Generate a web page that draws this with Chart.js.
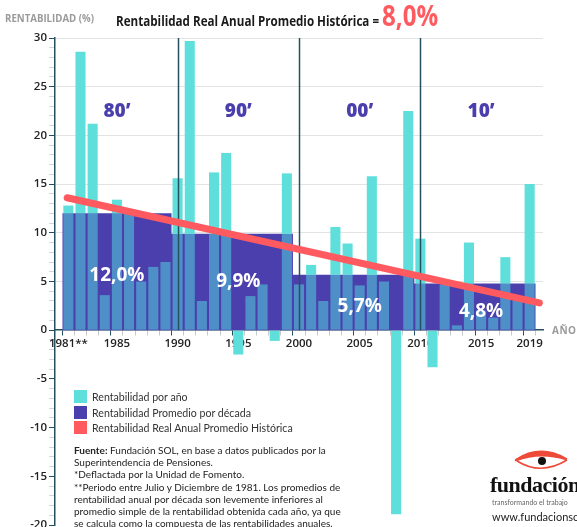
<!DOCTYPE html>
<html lang="es">
<head>
<meta charset="UTF-8">
<title>Rentabilidad Real Anual Promedio Histórica</title>
<style>
  html, body { margin: 0; padding: 0; background: #fff; }
  .wrap { position: relative; width: 577px; height: 527px; overflow: hidden; font-family: "Lato", "Open Sans", Arial, sans-serif; }
  #chart { position: absolute; left: 0; top: 0; }
  .ylabel { position: absolute; left: 5px; top: 11px; font: 700 10.5px "Open Sans", sans-serif; color: #9a9a9a; transform: scaleX(0.92); transform-origin: left; white-space: nowrap; }
  .title { position: absolute; left: 116px; top: -5px; font: 700 14px "Open Sans", sans-serif; color: #1a1a1a; transform: scaleX(0.83); transform-origin: left; white-space: nowrap; }
  .title .big { font-size: 29px; color: #ff5a5f; }
  .axisname { position: absolute; left: 552px; top: 323px; font: 700 10px "Open Sans", sans-serif; color: #9a9a9a; letter-spacing: 0.5px; }
  .legend { position: absolute; left: 74px; top: 390px; font-size: 10.6px; color: #333; }
  .legend div { height: 15.5px; line-height: 14px; white-space: nowrap; }
  .legend span { display: inline-block; width: 13px; height: 13px; vertical-align: -2px; margin-right: 5px; }
  .notes { position: absolute; left: 74px; top: 444px; font-size: 10px; line-height: 12.2px; color: #222; white-space: nowrap; }
  .logo { position: absolute; left: 490px; top: 444px; width: 120px; }
  .logo .name { position: absolute; left: 0; top: 28px; font: 700 22px "Liberation Serif", serif; color: #111; letter-spacing: -0.5px; }
  .logo .tag { position: absolute; left: 2px; top: 54px; font-size: 7px; color: #666; white-space: nowrap; }
  .logo .web { position: absolute; left: 2px; top: 66px; font-size: 11px; color: #222; white-space: nowrap; }
  .logo svg { position: absolute; left: 24px; top: 4px; }
</style>
</head>
<body>
<div class="wrap">
  <canvas id="chart" width="577" height="527"></canvas>
  <div class="ylabel">RENTABILIDAD (%)</div>
  <div class="title">Rentabilidad Real Anual Promedio Histórica = <span class="big">8,0%</span></div>
  <div class="axisname">AÑO</div>
  <div class="legend" id="legend"></div>
  <div class="notes">
    <b>Fuente:</b> Fundación SOL, en base a datos publicados por la<br>
    Superintendencia de Pensiones.<br>
    *Deflactada por la Unidad de Fomento.<br>
    **Periodo entre Julio y Diciembre de 1981. Los promedios de<br>
    rentabilidad anual por década son levemente inferiores al<br>
    promedio simple de la rentabilidad obtenida cada año, ya que<br>
    se calcula como la compuesta de las rentabilidades anuales.
  </div>
  <div class="logo">
    <svg width="56" height="26" viewBox="0 0 56 26">
      <path d="M2 12 Q26 -4 52 11 Q26 3 2 12 Z" fill="#ee4a3a" stroke="#ee4a3a" stroke-width="2.5" stroke-linejoin="round"/>
      <path d="M3 13 Q27 28 53 12" fill="none" stroke="#ee4a3a" stroke-width="1.6"/>
      <circle cx="28" cy="13" r="4" fill="#111"/>
    </svg>
    <div class="name">fundación</div>
    <div class="tag">transformando el trabajo</div>
    <div class="web">www.fundacionsol.cl</div>
  </div>
</div>

<script src="https://cdn.jsdelivr.net/npm/chart.js"></script>
<script>
  const years = [1981, 1982, 1983, 1984, 1985, 1986, 1987, 1988, 1989,
                 1990, 1991, 1992, 1993, 1994, 1995, 1996, 1997, 1998, 1999,
                 2000, 2001, 2002, 2003, 2004, 2005, 2006, 2007, 2008, 2009,
                 2010, 2011, 2012, 2013, 2014, 2015, 2016, 2017, 2018, 2019];
  const annualReturn = [12.8, 28.6, 21.2, 3.6, 13.4, 12.0, 5.0, 6.5, 7.0,
                        15.6, 29.7, 3.0, 16.2, 18.2, -2.5, 3.5, 4.7, -1.1, 16.1,
                        4.7, 6.7, 3.0, 10.6, 8.9, 4.6, 15.8, 5.0, -18.9, 22.5,
                        9.4, -3.8, 4.7, 0.5, 9.0, 2.0, 1.3, 7.5, 3.2, 15.0];

  const decadeNames = ['80’', '90’', '00’', '10’'];
  const decadeFirstYear = [1981, 1990, 2000, 2010];
  const decadeLastYear = [1989, 1999, 2009, 2019];
  const decadeAverage = [12.0, 9.9, 5.7, 4.8];
  const decadeAverageText = ['12,0%', '9,9%', '5,7%', '4,8%'];

  const trendYears = [1980.9, 2019.8];
  const trendValues = [13.6, 2.8];

  const xTickYears = [1981, 1985, 1990, 1995, 2000, 2005, 2010, 2015, 2019];
  const xTickLabels = ['1981**', '1985', '1990', '1995', '2000', '2005', '2010', '2015', '2019'];
  const yTickLabels = [30, 25, 20, 15, 10, 5, 0, -5, -10, -15, -20];

  const CYAN = '#5fdfdb', STEEL = '#4f8fc8', PURPLE = '#4a3fad', RED = '#ff5a5f', AXIS = '#24505f';

  // index of the decade a year belongs to
  function decadeOf(year) {
    for (let i = 0; i < decadeFirstYear.length; i++) {
      if (year >= decadeFirstYear[i] && year <= decadeLastYear[i]) return i;
    }
    return -1;
  }

  // part of each year bar that overlaps the decade block, and the part outside it
  const insideBars = years.map((y, i) => {
    const v = annualReturn[i], avg = decadeAverage[decadeOf(y)];
    return { x: y, y: v > 0 ? [0, Math.min(v, avg)] : null };
  });
  const outsideBars = years.map((y, i) => {
    const v = annualReturn[i], avg = decadeAverage[decadeOf(y)];
    let r = null;
    if (v > avg) r = [avg, v];
    else if (v < 0) r = [0, v];
    return { x: y, y: r };
  });

  // decade blocks as a stepped filled line
  const decadeSteps = decadeFirstYear.map((y, i) => ({ x: y - 0.5, y: decadeAverage[i] }));
  decadeSteps.push({ x: decadeLastYear[decadeLastYear.length - 1] + 0.5, y: decadeAverage[decadeAverage.length - 1] });

  const trendPoints = trendYears.map((y, i) => ({ x: y, y: trendValues[i] }));

  const tickVal = c => (c && c.tick ? c.tick.value : NaN);

  const decorations = {
    id: 'decorations',
    beforeDatasetDraw(chart, args) {
      if (args.index !== 3) return;
      const { ctx, scales: { x, y } } = chart;
      ctx.save();
      ctx.strokeStyle = AXIS;
      ctx.lineWidth = 1.5;
      decadeFirstYear.slice(1).forEach(yr => {
        const px = Math.round(x.getPixelForValue(yr)) + 0.5;
        ctx.beginPath();
        ctx.moveTo(px, y.getPixelForValue(30));
        ctx.lineTo(px, y.getPixelForValue(0));
        ctx.stroke();
      });
      ctx.restore();
    },
    afterDatasetsDraw(chart) {
      const { ctx, scales: { x, y } } = chart;
      const pctLevel = [5.6, 5.0, 2.4, 1.9];
      ctx.save();
      ctx.textAlign = 'center';
      ctx.textBaseline = 'middle';
      decadeNames.forEach((name, i) => {
        const cx = x.getPixelForValue(Math.floor(decadeFirstYear[i] / 10) * 10 + 5);
        ctx.font = '800 19px "Open Sans", sans-serif';
        ctx.fillStyle = PURPLE;
        ctx.fillText(name, cx, y.getPixelForValue(22.4));
        ctx.font = '700 19px "Open Sans", sans-serif';
        ctx.fillStyle = '#ffffff';
        ctx.fillText(decadeAverageText[i], cx, y.getPixelForValue(pctLevel[i]));
      });
      ctx.restore();
    }
  };

  const chart = new Chart(document.getElementById('chart'), {
    type: 'bar',
    data: {
      datasets: [
        { label: 'Rentabilidad por año', data: outsideBars, backgroundColor: CYAN, order: 1 },
        { data: insideBars, backgroundColor: STEEL, order: 1 },
        {
          type: 'line', label: 'Rentabilidad Promedio por década', data: decadeSteps,
          stepped: 'before', fill: 'origin', backgroundColor: PURPLE,
          borderColor: 'transparent', borderWidth: 0, pointRadius: 0, order: 2
        },
        {
          type: 'line', label: 'Rentabilidad Real Anual Promedio Histórica', data: trendPoints,
          borderColor: RED, backgroundColor: RED, borderWidth: 7, borderCapStyle: 'round',
          pointRadius: 0, fill: false, order: 0
        }
      ]
    },
    options: {
      responsive: false,
      devicePixelRatio: 1,
      animation: false,
      layout: { padding: { left: 0, right: 34, top: 38, bottom: 2 } },
      datasets: { bar: { grouped: false, barPercentage: 0.83, categoryPercentage: 1 } },
      plugins: { legend: { display: false }, tooltip: { enabled: false } },
      scales: {
        x: {
          type: 'linear',
          position: { y: 0 },
          offset: false,
          z: 1,
          min: 1979.9,
          max: 2020.1,
          afterFit: s => { s.height = 0; s.paddingLeft = 0; s.paddingRight = 0; },
          // a tick mark for every year; unlabelled ones at the axis ends keep labels from padding the axis
          afterBuildTicks: s => {
            s.ticks = [years[0] - 1].concat(years, [years[years.length - 1] + 1]).map(v => ({ value: v }));
          },
          border: { color: AXIS, width: 1.5 },
          grid: {
            drawOnChartArea: false,
            tickLength: 5,
            tickColor: c => xTickYears.includes(tickVal(c)) ? AXIS : '#c9c9c9'
          },
          ticks: {
            autoSkip: false,
            maxRotation: 0,
            padding: 2,
            color: '#222',
            font: { family: '"Open Sans", sans-serif', size: 11.5, weight: '600' },
            callback: v => {
              const k = xTickYears.indexOf(v);
              return k >= 0 ? xTickLabels[k] : '';
            }
          }
        },
        y: {
          min: -20,
          max: 30,
          afterFit: s => { s.width = 55; s.paddingTop = 0; s.paddingBottom = 0; },
          afterBuildTicks: s => {
            const t = [];
            for (let v = s.min; v <= s.max; v++) t.push({ value: v });
            s.ticks = t;
          },
          border: { color: AXIS, width: 1.5 },
          grid: {
            tickLength: 6,
            color: c => (tickVal(c) > 0 && yTickLabels.includes(tickVal(c))) ? '#e3e3e3' : 'transparent',
            tickColor: c => yTickLabels.includes(tickVal(c)) ? AXIS : '#cfd5d8'
          },
          ticks: {
            autoSkip: false,
            padding: 2,
            color: '#222',
            font: { family: '"Open Sans", sans-serif', size: 11.5, weight: '600' },
            callback: v => yTickLabels.includes(v) ? String(v) : ''
          }
        }
      }
    },
    plugins: [decorations]
  });

  // legend from the labelled datasets
  const legendColors = [CYAN, PURPLE, RED];
  document.getElementById('legend').innerHTML = chart.data.datasets
    .filter(d => d.label)
    .map((d, i) => `<div><span style="background:${legendColors[i]}"></span>${d.label}</div>`)
    .join('');
</script>
</body>
</html>
